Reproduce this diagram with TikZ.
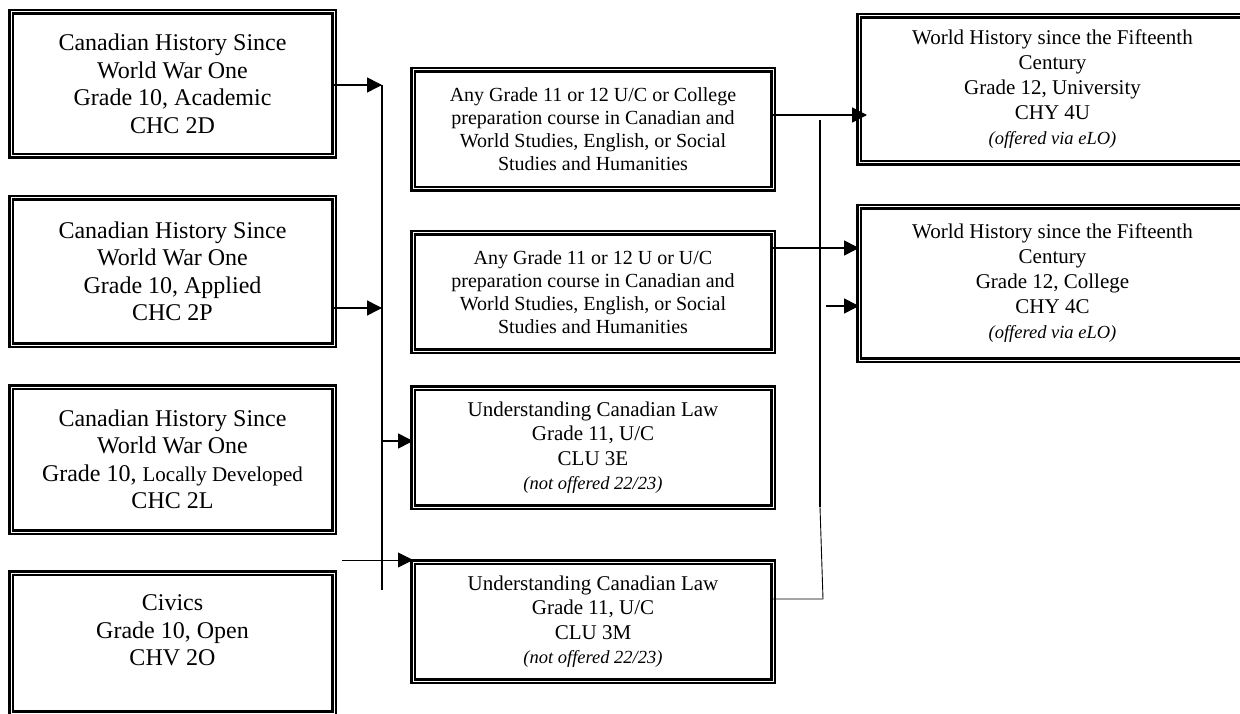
\documentclass[tikz,border=0pt]{standalone}
\usepackage{fontspec}
\setmainfont{Liberation Serif}
\usetikzlibrary{arrows.meta,calc}
\begin{document}
\begin{tikzpicture}[x=1pt,y=-1pt,
  course/.style={draw, line width=2.5pt, double=white, double distance=1pt,
    outer sep=0pt, inner sep=0pt, anchor=north west, align=center},
  leftfont/.style={font=\fontsize{24}{27.5}\selectfont},
  midfont/.style={font=\fontsize{20}{23}\selectfont},
  lawfont/.style={font=\fontsize{21}{24.5}\selectfont},
  worldfont/.style={font=\fontsize{21}{25}\selectfont},
  link/.style={line width=1.6pt},
  thinlink/.style={line width=0.9pt},
  arrowed/.style={-{Triangle[length=15pt,width=15pt]}},
]
\newcommand\remark[1]{{\fontsize{18.5}{20}\selectfont\itshape #1}}
\useasboundingbox (0,0) rectangle (1240,714);
\fill[white] (0,0) rectangle (1240,714);
\clip (0,0) rectangle (1240,714);

% Grade 10 courses
\node[course, leftfont, minimum width=323pt, minimum height=144pt] (chcD) at (11,12)
  {Canadian History Since\\World War One\\Grade 10, Academic\\CHC 2D};
\node[course, leftfont, minimum width=323pt, minimum height=147pt] (chcP) at (11,198)
  {Canadian History Since\\World War One\\Grade 10, Applied\\CHC 2P};
\node[course, leftfont, minimum width=323pt, minimum height=145pt] (chcL) at (11,387)
  {Canadian History Since\\World War One\\Grade 10, {\fontsize{21}{24}\selectfont Locally Developed}\\CHC 2L};
\node[course, minimum width=323pt, minimum height=140pt] (chv) at (11,573) {};
\node[leftfont, align=center] (chvText) at (172.5,630.5) {Civics\\Grade 10, Open\\CHV 2O};

% Grade 11 / 12 prerequisites
\node[course, midfont, minimum width=360pt, minimum height=119pt] (anyUC) at (413,70)
  {Any Grade 11 or 12 U/C or College\\preparation course in Canadian and\\World Studies, English, or Social\\Studies and Humanities};
\node[course, midfont, minimum width=360pt, minimum height=118pt] (anyU) at (413,233)
  {Any Grade 11 or 12 U or U/C\\preparation course in Canadian and\\World Studies, English, or Social\\Studies and Humanities};
\node[course, lawfont, minimum width=360pt, minimum height=119pt] (cluE) at (413,388)
  {Understanding Canadian Law\\Grade 11, U/C\\CLU 3E\\\remark{(not offered 22/23)}};
\node[course, lawfont, minimum width=360pt, minimum height=119pt] (cluM) at (413,562)
  {Understanding Canadian Law\\Grade 11, U/C\\CLU 3M\\\remark{(not offered 22/23)}};

% Grade 12 world history
\node[course, worldfont, minimum width=387pt, minimum height=147pt] (chyU) at (859,16)
  {World History since the Fifteenth\\Century\\Grade 12, University\\CHY 4U\\\remark{(offered via eLO)}};
\node[course, worldfont, minimum width=387pt, minimum height=153pt] (chyC) at (859,207)
  {World History since the Fifteenth\\Century\\Grade 12, College\\CHY 4C\\\remark{(offered via eLO)}};

% left bus
\coordinate (busTop) at (382,85);
\coordinate (busBot) at (382,590);
\coordinate (fromP) at (382,308);
\coordinate (toE) at (382,441);
\coordinate (feedM) at (342,560);
\draw[link,arrowed] (busTop -| chcD.east) -- (busTop);
\draw[link,arrowed] (fromP -| chcP.east) -- (fromP);
\draw[link] (busTop) -- (busBot);
\draw[link,arrowed] (toE) -- (toE -| cluE.west);
\draw[thinlink,arrowed] (feedM) -- (feedM -| cluM.west);

% right side
\coordinate (ucOut) at (776,115);
\coordinate (intoU) at (867,115);
\draw[link,arrowed] (ucOut -| anyUC.east) -- (intoU);
\coordinate (uOut) at (776,248);
\draw[link,arrowed] (uOut -| anyU.east) -- (uOut -| chyC.west);
\coordinate (riserTop) at (820,120);
\coordinate (riserMid) at (820,507);
\coordinate (riserFoot) at (823,599);
\draw[link] (riserTop) -- (riserMid);
\draw[thinlink] (riserFoot -| cluM.east) -- (riserFoot) -- (riserMid);
\coordinate (spur) at (826,306);
\draw[link,arrowed] (spur) -- (spur -| chyC.west);
\end{tikzpicture}
\end{document}
